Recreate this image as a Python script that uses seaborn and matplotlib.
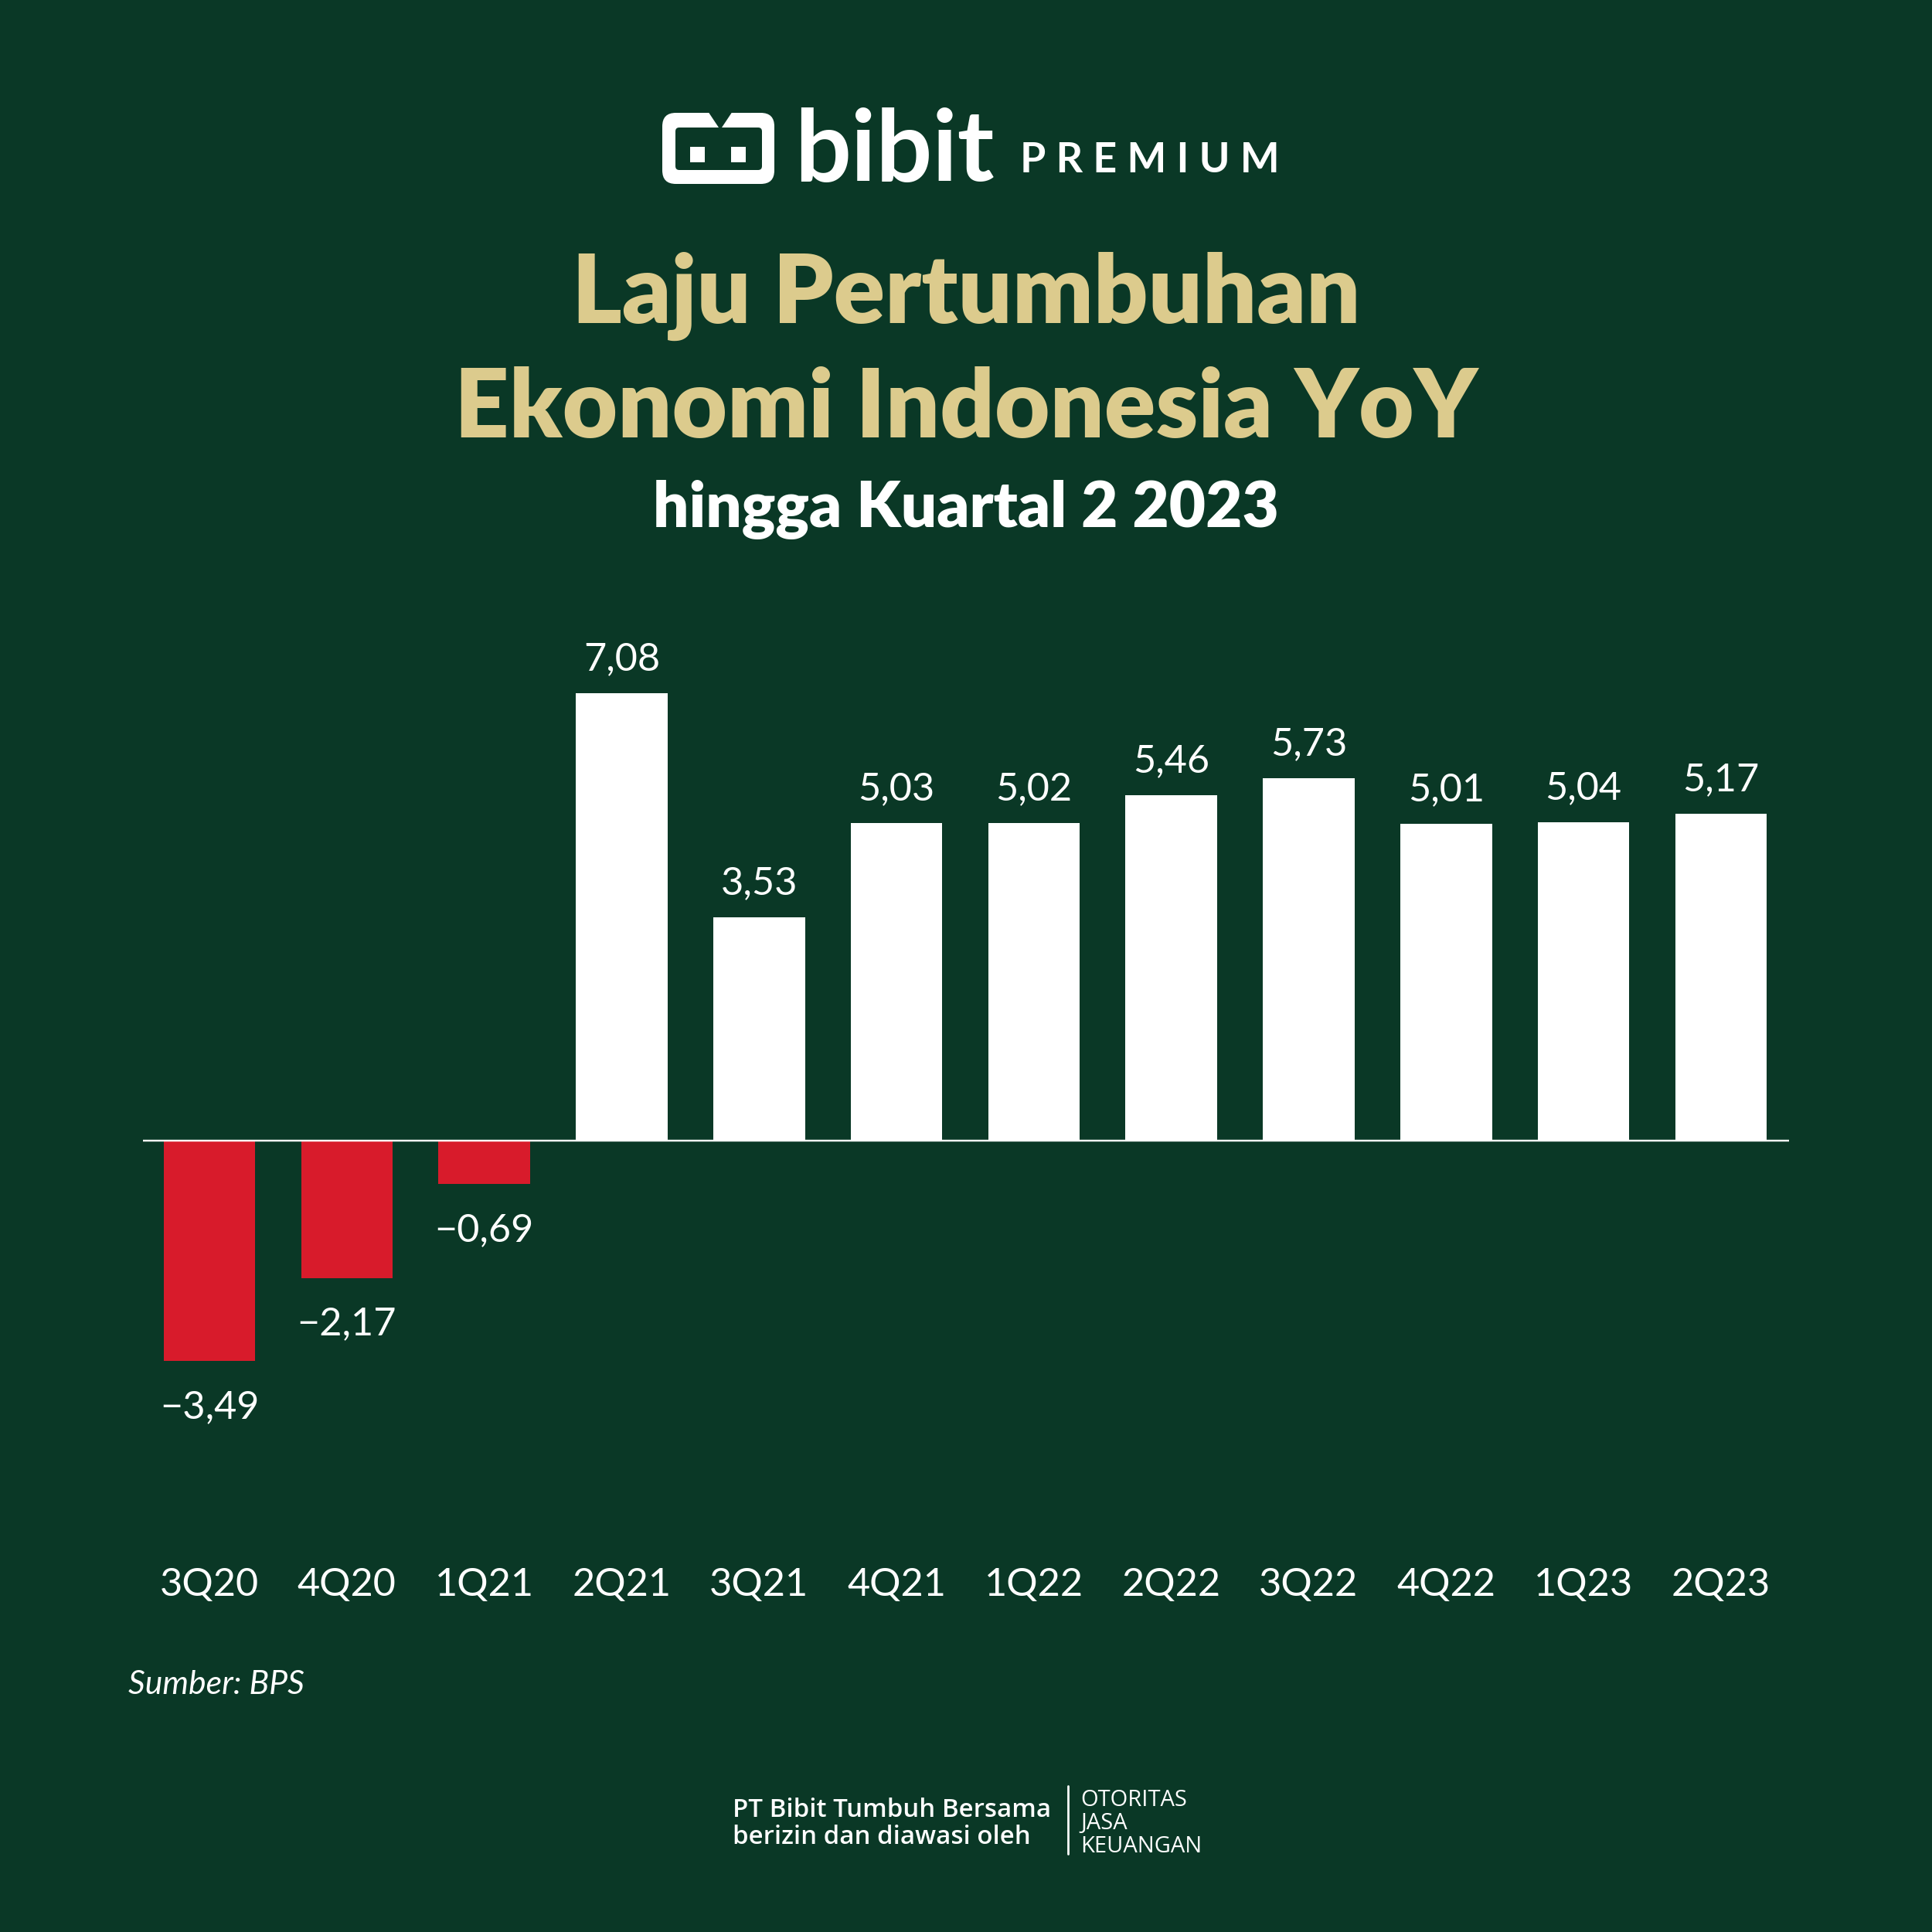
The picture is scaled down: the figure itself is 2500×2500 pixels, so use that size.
import matplotlib
matplotlib.use("Agg")
import matplotlib.pyplot as plt
import seaborn as sns
import pandas as pd
from matplotlib.patches import FancyBboxPatch, Rectangle, Polygon
from matplotlib.lines import Line2D

# ---- data ----
quarters = ["3Q20", "4Q20", "1Q21", "2Q21", "3Q21", "4Q21",
            "1Q22", "2Q22", "3Q22", "4Q22", "1Q23", "2Q23"]
growth = [-3.49, -2.17, -0.69, 7.08, 3.53, 5.03,
          5.02, 5.46, 5.73, 5.01, 5.04, 5.17]

title_line1 = "Laju Pertumbuhan"
title_line2 = "Ekonomi Indonesia YoY"
subtitle = "hingga Kuartal 2 2023"
source = "Sumber: BPS"

BG = "#0A3826"
RED = "#D81B2B"
WHITE = "#FFFFFF"
GOLD = "#DCCB8D"
FONT = ["Lato", "DejaVu Sans"]

sns.set_theme(style="white")
plt.rcParams["font.family"] = FONT

W = H = 2500
fig = plt.figure(figsize=(10, 10), dpi=250, facecolor=BG)

def fx(px):
    return px / W

def fy(py):
    return 1 - py / H

# ---- chart axes ----
baseline_px = 1476
ppu = 81.8
top_px, bot_px = 800, 2000
left_px, right_px = 185, 2315
ax = fig.add_axes([fx(left_px), fy(bot_px), fx(right_px - left_px), (bot_px - top_px) / H])
ax.set_facecolor(BG)

df = pd.DataFrame({"quarter": quarters, "growth": growth})
colors = [RED if v < 0 else WHITE for v in growth]
sns.barplot(data=df, x="quarter", y="growth", hue="quarter", palette=colors,
            legend=False, dodge=False, width=0.667, saturation=1, ax=ax,
            edgecolor="none", linewidth=0)

ax.set_xlim(-0.484, 11.496)
ax.set_ylim(-(bot_px - baseline_px) / ppu, (baseline_px - top_px) / ppu)
ax.axhline(0, color=WHITE, lw=0.7, zorder=3)

def fmt(v):
    s = f"{v:.2f}".replace(".", ",")
    return s.replace("-", "\u2212")

for cont in ax.containers:
    vals = cont.datavalues
    v = vals[0]
    ax.bar_label(cont, labels=[fmt(x) for x in vals], padding=(6 if v >= 0 else 10.5),
                 color=WHITE, fontsize=14.5, family=FONT)

for s in ax.spines.values():
    s.set_visible(False)
ax.set_xlabel("")
ax.set_ylabel("")
ax.set_yticks([])
ax.tick_params(axis="x", length=0, pad=8, labelsize=14.5, labelcolor=WHITE)
for lab in ax.get_xticklabels():
    lab.set_family(FONT)

# ---- logo ----
outer = FancyBboxPatch((fx(857), fy(238)), fx(1002 - 857), (238 - 146) / H,
                       boxstyle="round,pad=0,rounding_size=0.007",
                       transform=fig.transFigure, facecolor=WHITE, edgecolor="none")
fig.patches.append(outer)
inner = FancyBboxPatch((fx(874), fy(220)), fx(986 - 874), (220 - 165) / H,
                       boxstyle="round,pad=0,rounding_size=0.002",
                       transform=fig.transFigure, facecolor=BG, edgecolor="none")
fig.patches.append(inner)
notch = Polygon([(fx(916), fy(144)), (fx(948), fy(144)), (fx(932), fy(168))],
                closed=True, transform=fig.transFigure, facecolor=BG, edgecolor="none")
fig.patches.append(notch)
for x0 in (893, 946):
    sq = Rectangle((fx(x0), fy(210)), fx(19), 20 / H, transform=fig.transFigure,
                   facecolor=WHITE, edgecolor="none")
    fig.patches.append(sq)
fig.text(fx(1028), fy(234), "bibit", color=WHITE, fontsize=37, fontweight="bold",
         family=FONT, ha="left", va="baseline")
fig.text(fx(1320), fy(223), "P R E M I U M", color=WHITE, fontsize=15.5, fontweight="bold",
         family=FONT, ha="left", va="baseline")

# ---- titles ----
fig.text(0.5, fy(418), title_line1, color=GOLD, fontsize=35.5, fontweight="heavy",
         family=FONT, ha="center", va="baseline")
fig.text(0.5, fy(566), title_line2, color=GOLD, fontsize=35.5, fontweight="heavy",
         family=FONT, ha="center", va="baseline")
fig.text(0.5, fy(682), subtitle, color=WHITE, fontsize=23.5, fontweight="heavy",
         family=FONT, ha="center", va="baseline")

# ---- source ----
fig.text(fx(166), fy(2192), source, color=WHITE, fontsize=12.3, style="italic",
         family=FONT, ha="left", va="baseline")

# ---- footer ----
FOOT = ["Open Sans", "DejaVu Sans"]
fig.text(fx(948), fy(2351), "PT Bibit Tumbuh Bersama", color=WHITE, fontsize=9.5,
         fontweight="semibold", family=FOOT, ha="left", va="baseline")
fig.text(fx(948), fy(2386), "berizin dan diawasi oleh", color=WHITE, fontsize=9.5,
         fontweight="semibold", family=FOOT, ha="left", va="baseline")
fig.add_artist(Line2D([fx(1382), fx(1382)], [fy(2311), fy(2399)], color=WHITE, lw=0.8,
                      transform=fig.transFigure))
for txt, yb in (("OTORITAS", 2337), ("JASA", 2367), ("KEUANGAN", 2397)):
    fig.text(fx(1398), fy(yb), txt, color=WHITE, fontsize=8.4, family=FOOT,
             ha="left", va="baseline")

fig.savefig("out.png", dpi=250, facecolor=BG)
